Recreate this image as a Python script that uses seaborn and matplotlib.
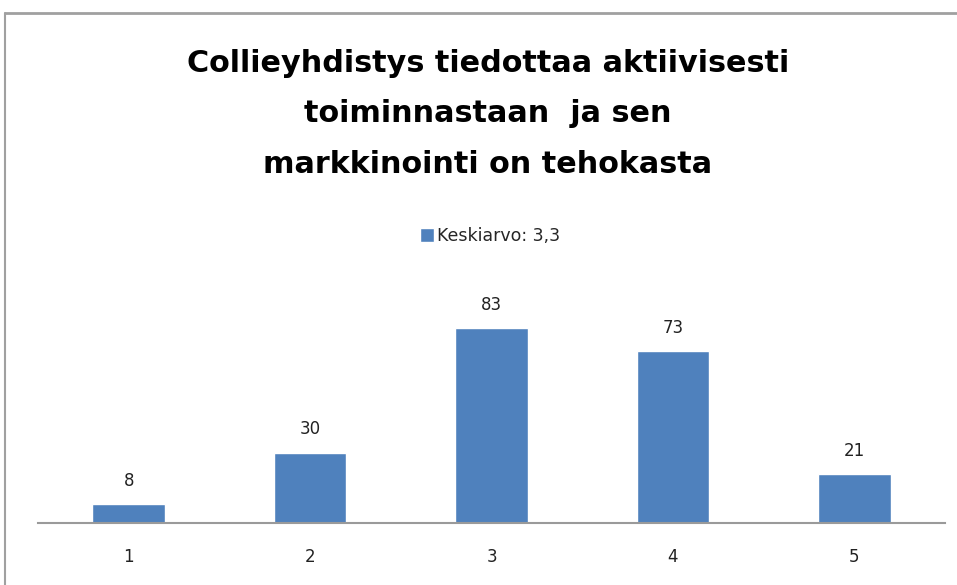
import matplotlib
matplotlib.use("Agg")
import matplotlib.pyplot as plt
import seaborn as sns
import pandas as pd
from matplotlib.lines import Line2D

# data
categories = ["1", "2", "3", "4", "5"]
counts = [8, 30, 83, 73, 21]
legend_label = "Keskiarvo: 3,3"
title = "Collieyhdistys tiedottaa aktiivisesti\ntoiminnastaan  ja sen\nmarkkinointi on tehokasta"

df = pd.DataFrame({"vastaus": categories, "lkm": counts})

sns.set_theme(style="white")
plt.rcParams['font.family'] = ['DejaVu Sans']

fig = plt.figure(figsize=(9.57, 5.85), dpi=100)
ax = fig.add_axes([38 / 957, 62 / 585, 907 / 957, 235 / 585])

bar_color = "#4F81BD"
sns.barplot(data=df, x="vastaus", y="lkm", color=bar_color, width=0.4,
            label=legend_label, ax=ax, saturation=1, legend=False)
if ax.get_legend() is not None:
    ax.get_legend().remove()

for i, v in enumerate(counts):
    ax.text(i, v + 6, str(v), ha="center", va="bottom", fontsize=12, color="#222222")

ax.set_xlim(-0.5, 4.5)
ax.set_ylim(0, 100)
ax.set_yticks([])
ax.set_xlabel("")
ax.set_ylabel("")
for s in ["top", "right", "left"]:
    ax.spines[s].set_visible(False)
ax.spines["bottom"].set_color("#9a9a9a")
ax.spines["bottom"].set_linewidth(1.5)
ax.tick_params(axis="x", length=0, pad=18, labelsize=12, colors="#222222")

handles, labels = ax.get_legend_handles_labels()
fig.legend(handles[:1], labels[:1], loc="center", bbox_to_anchor=(490 / 957, 1 - 236 / 585),
           frameon=False, fontsize=12.5, handlelength=0.8, handleheight=0.8,
           handletextpad=0.2)

fig.text(488 / 957, 1 - 114 / 585, title, ha="center", va="center",
         fontsize=21.8, fontweight="bold", linespacing=1.92, color="black")

# chart frame (top and left edges visible)
fig.add_artist(Line2D([5 / 957, 1], [1 - 13 / 585, 1 - 13 / 585],
                      transform=fig.transFigure, color="#a0a0a0", lw=2))
fig.add_artist(Line2D([5 / 957, 5 / 957], [1 - 13 / 585, 0],
                      transform=fig.transFigure, color="#a0a0a0", lw=1.5))

fig.savefig("out.png", dpi=100)
